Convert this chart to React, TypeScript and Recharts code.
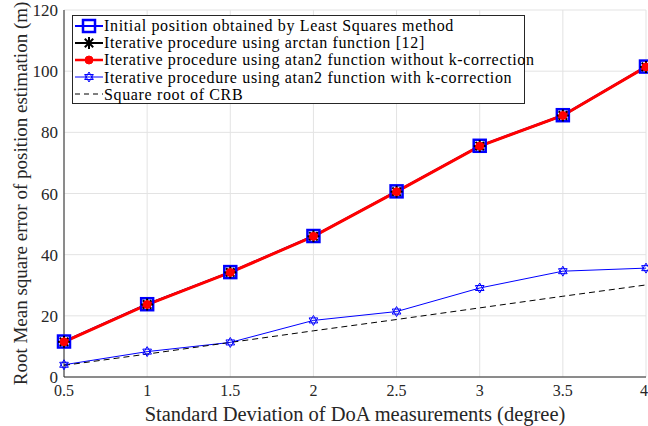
import { LineChart, Line, XAxis, YAxis, CartesianGrid, Label } from 'recharts'

const sigma = [0.5, 1, 1.5, 2, 2.5, 3, 3.5, 4]
const leastSquares = [11.6, 23.8, 34.3, 46.1, 60.7, 75.6, 85.6, 101.5]
const arctanIter = [11.5, 23.7, 34.2, 46.0, 60.6, 75.5, 85.5, 101.4]
const atan2NoK = [11.5, 23.7, 34.2, 46.0, 60.6, 75.5, 85.5, 101.4]
const atan2WithK = [4.0, 8.3, 11.3, 18.5, 21.4, 29.1, 34.6, 35.6]
const crbRoot = [3.8, 7.5, 11.3, 15.1, 18.8, 22.6, 26.4, 30.1]

const xTicks = [0.5, 1, 1.5, 2, 2.5, 3, 3.5, 4]
const yTicks = [0, 20, 40, 60, 80, 100, 120]

const legendItems = [
    { key: 'ls', label: 'Initial position obtained by Least Squares method' },
    { key: 'arctan', label: 'Iterative procedure using arctan function [12]' },
    { key: 'noK', label: 'Iterative procedure using atan2 function without k-correction' },
    { key: 'withK', label: 'Iterative procedure using atan2 function with k-correction' },
    { key: 'crb', label: 'Square root of CRB' }
]

const data = sigma.map((s, i) => ({
    s,
    ls: leastSquares[i],
    arctan: arctanIter[i],
    noK: atan2NoK[i],
    withK: atan2WithK[i],
    crb: crbRoot[i]
}))

const FONT = '"Liberation Serif", "Times New Roman", serif'

function Square({ cx, cy }: any) {
    return <rect x={cx - 6} y={cy - 6} width={12} height={12} fill="none" stroke="#0000ff" strokeWidth={2.5} />
}

function Asterisk({ cx, cy }: any) {
    const r = 6
    return (
        <g stroke="#000" strokeWidth={2}>
            <line x1={cx - r} y1={cy} x2={cx + r} y2={cy} />
            <line x1={cx} y1={cy - r} x2={cx} y2={cy + r} />
            <line x1={cx - r * 0.7} y1={cy - r * 0.7} x2={cx + r * 0.7} y2={cy + r * 0.7} />
            <line x1={cx - r * 0.7} y1={cy + r * 0.7} x2={cx + r * 0.7} y2={cy - r * 0.7} />
        </g>
    )
}

function Circle({ cx, cy }: any) {
    return <circle cx={cx} cy={cy} r={4} fill="#ff0000" stroke="#ff0000" />
}

function Hexagram({ cx, cy }: any) {
    const r = 5
    const tri = (a0: number) =>
        [0, 1, 2]
            .map(k => {
                const a = a0 + (k * 2 * Math.PI) / 3
                return `${cx + r * Math.cos(a)},${cy + r * Math.sin(a)}`
            })
            .join(' ')
    return (
        <g fill="none" stroke="#0000ff" strokeWidth={1}>
            <polygon points={tri(-Math.PI / 2)} />
            <polygon points={tri(Math.PI / 2)} />
        </g>
    )
}

function LegendBox() {
    const icon = (key: string) => {
        const y = 8
        switch (key) {
            case 'ls':
                return (
                    <>
                        <line x1={1} y1={y} x2={29} y2={y} stroke="#0000ff" strokeWidth={2} />
                        <Square cx={15} cy={y} />
                    </>
                )
            case 'arctan':
                return (
                    <>
                        <line x1={1} y1={y} x2={29} y2={y} stroke="#000" strokeWidth={2} />
                        <Asterisk cx={15} cy={y} />
                    </>
                )
            case 'noK':
                return (
                    <>
                        <line x1={1} y1={y} x2={29} y2={y} stroke="#ff0000" strokeWidth={2.5} />
                        <Circle cx={15} cy={y} />
                    </>
                )
            case 'withK':
                return (
                    <>
                        <line x1={1} y1={y} x2={29} y2={y} stroke="#0000ff" strokeWidth={1} />
                        <Hexagram cx={15} cy={y} />
                    </>
                )
            default:
                return <line x1={1} y1={y} x2={29} y2={y} stroke="#000" strokeWidth={1} strokeDasharray="5 4" />
        }
    }
    return (
        <div
            style={{
                position: 'absolute',
                left: 72,
                top: 15,
                width: 453,
                height: 89,
                border: '1px solid #262626',
                background: '#fff',
                boxSizing: 'border-box',
                padding: '1px 0 0 1px',
                fontFamily: FONT,
                fontSize: 16,
                letterSpacing: 0.65,
                lineHeight: '17px',
                color: '#000'
            }}
        >
            {legendItems.map(it => (
                <div key={it.key} style={{ display: 'flex', alignItems: 'center', height: 17.2 }}>
                    <svg width={30} height={16} style={{ flex: 'none' }}>
                        {icon(it.key)}
                    </svg>
                    <span style={{ marginLeft: 0, whiteSpace: 'nowrap' }}>{it.label}</span>
                </div>
            ))}
        </div>
    )
}

export default function App() {
    return (
        <div style={{ position: 'absolute', left: 0, top: 0, width: 648, height: 426, background: '#fff' }}>
            <LineChart width={648} height={426} data={data} margin={{ top: 10, right: 2, bottom: 0, left: 0 }}>
                <CartesianGrid stroke="#e3e3e3" strokeWidth={1} />
                <XAxis
                    dataKey="s"
                    type="number"
                    domain={[0.5, 4]}
                    ticks={xTicks}
                    height={49}
                    stroke="#262626"
                    tickLine={false}
                    tick={{ fill: '#262626', fontSize: 16, fontFamily: FONT }}
                    tickMargin={2}
                >
                    <Label
                        value="Standard Deviation of DoA measurements (degree)"
                        position="insideBottom"
                        offset={5}
                        style={{ fill: '#262626', fontSize: 20.5, fontFamily: FONT }}
                    />
                </XAxis>
                <YAxis
                    type="number"
                    domain={[0, 120]}
                    ticks={yTicks}
                    width={64}
                    stroke="#262626"
                    tickLine={false}
                    tick={{ fill: '#262626', fontSize: 17, fontFamily: FONT }}
                    tickMargin={0}
                >
                    <Label
                        value="Root Mean square error of position estimation (m)"
                        angle={-90}
                        position="insideLeft"
                        offset={20}
                        style={{ textAnchor: 'middle', fill: '#262626', fontSize: 19, fontFamily: FONT }}
                    />
                </YAxis>
                <XAxis xAxisId="top" orientation="top" dataKey="s" type="number" domain={[0.5, 4]} height={0} tick={false} tickLine={false} stroke="#262626" />
                <YAxis yAxisId="right" orientation="right" domain={[0, 120]} width={0} tick={false} tickLine={false} stroke="#262626" />
                <Line dataKey="ls" stroke="#0000ff" strokeWidth={2} dot={<Square />} activeDot={false} isAnimationActive={false} />
                <Line dataKey="arctan" stroke="#000" strokeWidth={2} dot={<Asterisk />} activeDot={false} isAnimationActive={false} />
                <Line dataKey="noK" stroke="#ff0000" strokeWidth={3} dot={<Circle />} activeDot={false} isAnimationActive={false} />
                <Line dataKey="withK" stroke="#0000ff" strokeWidth={1} dot={<Hexagram />} activeDot={false} isAnimationActive={false} />
                <Line dataKey="crb" stroke="#000" strokeWidth={1} strokeDasharray="6 4" dot={false} activeDot={false} isAnimationActive={false} />
            </LineChart>
            <LegendBox />
        </div>
    )
}
